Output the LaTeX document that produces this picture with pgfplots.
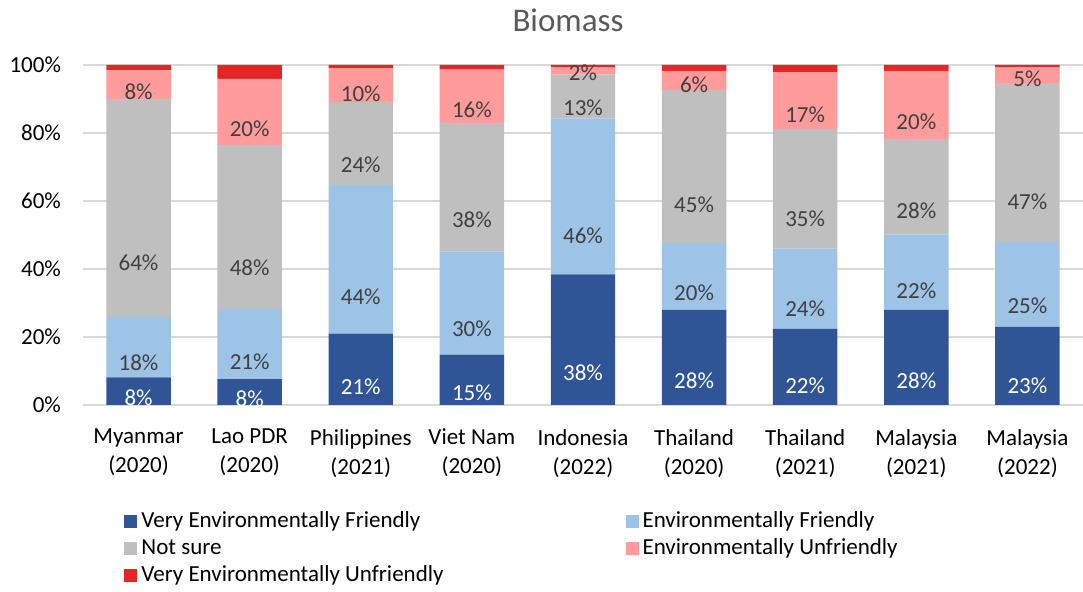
\documentclass[border=0pt]{standalone}
\usepackage{pgfplots}
\pgfplotsset{compat=1.18}
\usepackage{fontspec}
\setmainfont{Carlito}

\definecolor{vef}{HTML}{2F5597}
\definecolor{ef}{HTML}{9DC3E6}
\definecolor{ns}{HTML}{BFBFBF}
\definecolor{eu}{HTML}{FF9B9B}
\definecolor{veu}{HTML}{E32726}
\definecolor{labgray}{HTML}{404040}
\definecolor{titlegray}{HTML}{595959}
\definecolor{gridgray}{HTML}{D9D9D9}

% labels centred in each stacked segment, showing the segment's own value
\pgfplotsset{
  lbl/.style={
    nodes near coords={\pgfmathprintnumber[fixed,precision=0]{\rawy}\%},
    visualization depends on={rawy \as \rawy},
    every node near coord/.append style={anchor=center, text=labgray,
      font=\fontsize{11.5}{13}\selectfont,
      shift={(axis direction cs:0,-\rawy/4)}},
  },
}

\begin{document}
\begin{tikzpicture}
\useasboundingbox (-41.5pt,-93.5pt) rectangle (500pt,202.5pt);
\begin{axis}[
  ybar stacked,
  scale only axis,
  width=500pt, height=170pt,
  bar width=0.58,
  xmin=-0.5, xmax=8.5,
  ymin=0, ymax=100,
  ytick={0,20,...,100},
  yticklabel={\pgfmathprintnumber{\tick}\%},
  /pgf/number format/assume math mode=true,
  xtick=data,
  xticklabels={{Myanmar\\(2020)},{Lao PDR\\(2020)},{Philippines\\(2021)},{Viet Nam\\(2020)},{Indonesia\\(2022)},{Thailand\\(2020)},{Thailand\\(2021)},{Malaysia\\(2021)},{Malaysia\\(2022)}},
  xticklabel style={align=center, font=\fontsize{11.5}{14.5}\selectfont, yshift=-8.5pt},
  yticklabel style={font=\fontsize{11.5}{13}\selectfont, xshift=-7.5pt},
  axis line style={draw=none},
  tick style={draw=none},
  ymajorgrids,
  grid style={gridgray, line width=0.8pt},
  legend image code/.code={\draw[#1, draw=none] (0pt,-3.25pt) rectangle (6.5pt,3.25pt);},
  legend cell align=left,
  legend columns=2,
  legend style={at={(0.035,-0.29)}, anchor=north west, draw=none, fill=none,
    font=\fontsize{11.5}{13}\selectfont, row sep=0pt,
    /tikz/column 2/.style={column sep=89pt}},
]
\addplot[fill=vef, draw=none, lbl, every node near coord/.append style={text=white}] coordinates {
  (0,8.1) (1,7.6) (2,21.0) (3,14.8) (4,38.4) (5,28.0) (6,22.4) (7,28.0) (8,23.0)};
\addlegendentry{Very Environmentally Friendly}
\addplot[fill=ef, draw=none, lbl] coordinates {
  (0,17.8) (1,20.7) (2,43.7) (3,30.3) (4,45.9) (5,19.6) (6,23.6) (7,22.1) (8,25.0)};
\addlegendentry{Environmentally Friendly}
\addplot[fill=ns, draw=none, lbl] coordinates {
  (0,64.1) (1,48.1) (2,24.4) (3,37.9) (4,12.9) (5,45.1) (6,35.1) (7,28.2) (8,46.7)};
\addlegendentry{Not sure}
\addplot[fill=eu, draw=none, lbl] coordinates {
  (0,8.4) (1,19.5) (2,10.0) (3,15.6) (4,2.1) (5,5.6) (6,16.8) (7,20.0) (8,4.7)};
\addlegendentry{Environmentally Unfriendly}
\addplot[fill=veu, draw=none] coordinates {
  (0,1.6) (1,4.1) (2,0.9) (3,1.4) (4,0.7) (5,1.7) (6,2.1) (7,1.7) (8,0.6)};
\addlegendentry{Very Environmentally Unfriendly}
\end{axis}
\node[text=titlegray, font=\fontsize{16.5}{19}\selectfont] at (242.5pt,192.5pt) {Biomass};
\end{tikzpicture}
\end{document}
